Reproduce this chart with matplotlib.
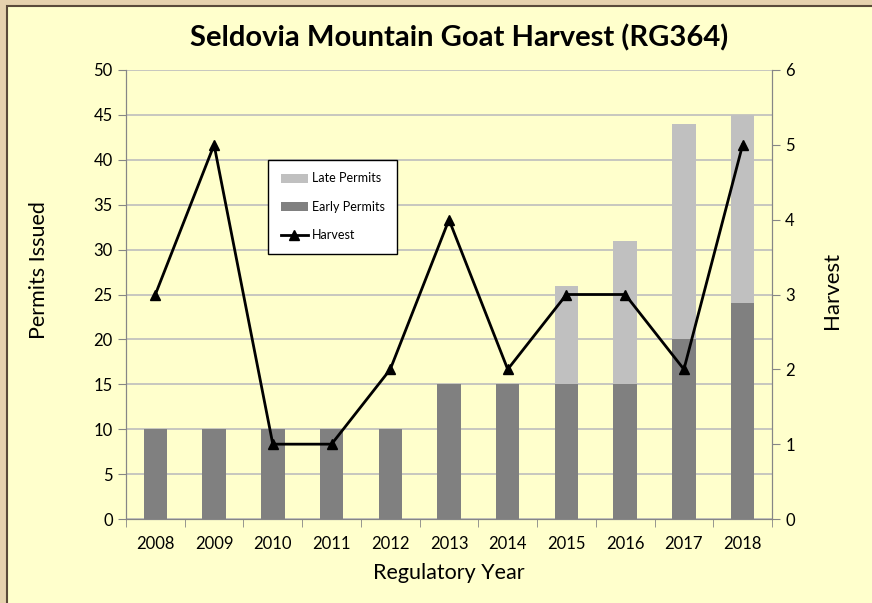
#!/usr/bin/env python3
"""Seldovia mountain goat harvest (RG364): permits issued and harvest by year."""

import matplotlib
matplotlib.use("Agg")
import matplotlib.pyplot as plt
from matplotlib.patches import Rectangle
from matplotlib.ticker import FixedLocator, NullFormatter
import numpy as np

years = ["2008", "2009", "2010", "2011", "2012", "2013",
         "2014", "2015", "2016", "2017", "2018"]
early_permits = [10, 10, 10, 10, 10, 15, 15, 15, 15, 20, 24]
late_permits = [0, 0, 0, 0, 0, 0, 0, 11, 16, 24, 21]
harvest = [3, 5, 1, 1, 2, 4, 2, 3, 3, 2, 5]

plt.rcParams["font.family"] = ["Lato", "DejaVu Sans"]

fig = plt.figure(figsize=(8.72, 6.03), dpi=100)
fig.patch.set_facecolor("#E6D2AE")
fig.patches.append(Rectangle((7 / 872, -0.01), 1.0, 1 - 6 / 603 + 0.01,
                             transform=fig.transFigure, facecolor="#FFFFCC",
                             edgecolor="#5A4A3A", linewidth=1.5, zorder=-10))

ax = fig.add_axes([126 / 872, 1 - 519 / 603, (772 - 126) / 872, (519 - 70) / 603])
ax.set_facecolor("#FFFFCC")
x = np.arange(len(years))

ax.bar(x, early_permits, width=0.4, color="#808080", label="Early Permits", zorder=2)
ax.bar(x, late_permits, width=0.4, bottom=early_permits, color="#C0C0C0",
       label="Late Permits", zorder=2)

ax.set_ylim(0, 50)
ax.set_yticks(range(0, 51, 5))
ax.set_xlim(-0.5, len(years) - 0.5)
ax.set_xticks(x)
ax.set_xticklabels(years)
ax.xaxis.set_minor_locator(FixedLocator(np.arange(-0.5, len(years), 1.0)))
ax.xaxis.set_minor_formatter(NullFormatter())
ax.tick_params(axis="x", which="major", length=0, labelsize=12, pad=12)
ax.tick_params(axis="x", which="minor", length=6, color="#868686")
ax.tick_params(axis="y", length=6, color="#868686", labelsize=12)
ax.grid(axis="y", color="#BDBDBD", linewidth=1.2, zorder=0)
ax.set_axisbelow(True)
for side in ["top"]:
    ax.spines[side].set_visible(False)
for side in ["left", "bottom", "right"]:
    ax.spines[side].set_color("#868686")

ax.set_xlabel("Regulatory Year", fontsize=15.5, labelpad=8)
ax.set_ylabel("Permits Issued", fontsize=15.5)
ax.yaxis.set_label_coords(-0.119, 0.555)

ax2 = ax.twinx()
ax2.plot(x, harvest, color="black", linewidth=2, marker="^", markersize=7,
         label="Harvest", zorder=3)
ax2.set_ylim(0, 6)
ax2.set_yticks(range(0, 7))
ax2.tick_params(axis="y", length=6, color="#868686", labelsize=12)
for side in ["top"]:
    ax2.spines[side].set_visible(False)
for side in ["left", "bottom", "right"]:
    ax2.spines[side].set_color("#868686")
ax2.set_ylabel("Harvest", fontsize=16)
ax2.yaxis.set_label_coords(1.077, 0.51)

fig.text(459 / 872, 1 - 38 / 603, "Seldovia Mountain Goat Harvest (RG364)",
         ha="center", va="center", fontsize=21, fontweight="bold")

h1, l1 = ax.get_legend_handles_labels()
h2, l2 = ax2.get_legend_handles_labels()
leg = ax2.legend([h1[1], h1[0], h2[0]], [l1[1], l1[0], l2[0]],
                 loc="upper left", bbox_to_anchor=((268 - 126) / 646, (519 - 160) / 449),
                 borderaxespad=0, fontsize=9, frameon=True, fancybox=False,
                 framealpha=1, edgecolor="black", labelspacing=1.3,
                 handlelength=2.2, borderpad=1.0, handletextpad=0.3)
leg.get_frame().set_linewidth(1.0)

fig.savefig("out.png", dpi=100, facecolor=fig.get_facecolor())
